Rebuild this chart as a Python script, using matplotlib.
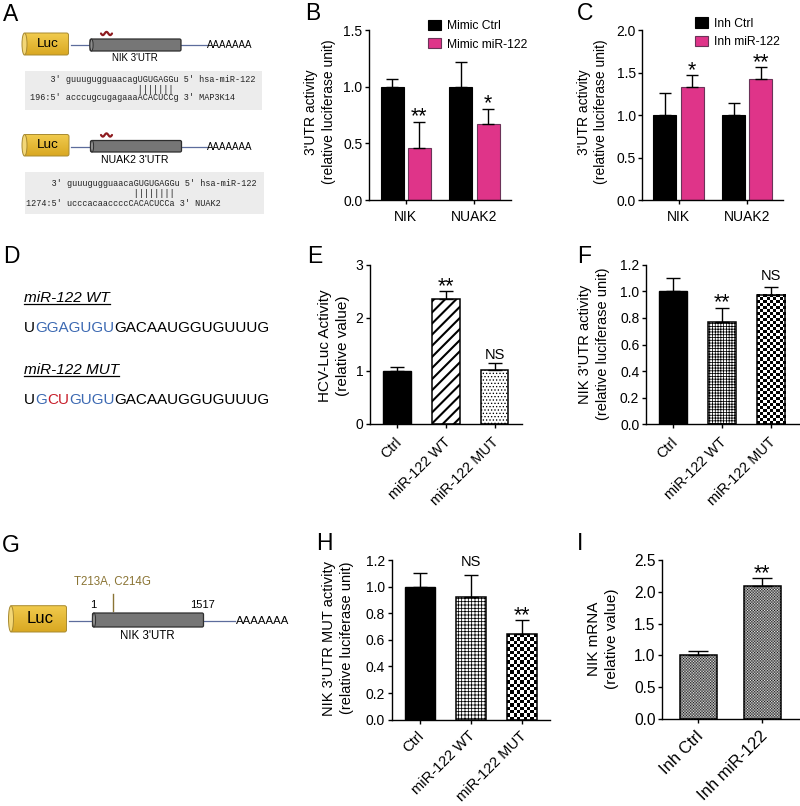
import numpy as np
import matplotlib
matplotlib.use("Agg")
import matplotlib.pyplot as plt
from matplotlib.patches import Rectangle, Ellipse, FancyBboxPatch
from matplotlib.transforms import ScaledTranslation

plt.rcParams['font.family'] = ['Liberation Sans', 'DejaVu Sans']
plt.rcParams['hatch.linewidth'] = 0.55

W, H = 800, 806
PINK = '#DF3489'
PINK_EDGE = '#6B3358'
LINE_BLUE = '#5C6C9C'
OLIVE = '#8A7434'

groups = ['NIK', 'NUAK2']
three_labels = ['Ctrl', 'miR-122 WT', 'miR-122 MUT']
inh_labels = ['Inh Ctrl', 'Inh miR-122']

b_ctrl = [1.0, 1.0]
b_ctrl_top = [1.067, 1.217]
b_mir = [0.457, 0.672]
b_mir_top = [0.693, 0.805]
b_marks = ['**', '*']

c_ctrl = [1.0, 1.0]
c_ctrl_top = [1.257, 1.14]
c_mir = [1.328, 1.43]
c_mir_top = [1.473, 1.564]
c_marks = ['*', '**']

e_vals = [1.0, 2.346, 1.02]
e_tops = [1.07, 2.497, 1.138]
e_marks = ['', '**', 'NS']

f_vals = [1.0, 0.77, 0.97]
f_tops = [1.098, 0.875, 1.035]
f_marks = ['', '**', 'NS']

h_vals = [1.0, 0.922, 0.642]
h_tops = [1.103, 1.088, 0.749]
h_marks = ['', 'NS', '**']

i_vals = [1.0, 2.09]
i_tops = [1.064, 2.21]
i_marks = ['', '**']

fig = plt.figure(figsize=(W / 100, H / 100), dpi=100)

# overlay in pixel coordinates for the schematics
bg = fig.add_axes([0, 0, 1, 1], zorder=-1)
bg.set_xlim(0, W)
bg.set_ylim(H, 0)
bg.axis('off')


def make_axes(left, right, top, bottom, ymax, yticks, first, step, ticks, labels, rot=0, ticksize=10, rotsize=10.4,
              rotpad=5):
    ax = fig.add_axes([left / W, 1 - bottom / H, (right - left) / W, (bottom - top) / H])
    ax.patch.set_alpha(0)
    ax.set_ylim(0, ymax)
    ax.set_xlim((left - first) / step, (right - first) / step)
    ax.set_yticks(yticks)
    ax.set_xticks(ticks)
    ax.tick_params(length=3.0, width=1.0, labelsize=ticksize)
    ax.tick_params(axis='y', pad=1.8)
    if rot:
        ax.set_xticklabels(labels, rotation=rot, ha='right', rotation_mode='anchor', fontsize=rotsize)
        ax.tick_params(axis='x', pad=rotpad)
        for lab in ax.get_xticklabels():
            lab.set_transform(lab.get_transform() + ScaledTranslation(-2 / 72, 0, fig.dpi_scale_trans))
    else:
        ax.set_xticklabels(labels)
        ax.tick_params(axis='x', pad=4)
    ax.spines['top'].set_visible(False)
    ax.spines['right'].set_visible(False)
    ax.spines['left'].set_linewidth(1.0)
    ax.spines['bottom'].set_linewidth(1.0)
    return ax


def ylabel(x, y, text, size=10):
    fig.text(x / W, 1 - y / H, text, rotation=90, ha='center', va='center',
             fontsize=size, linespacing=1.3, multialignment='center')


def errs(ax, x, vals, tops, cap):
    vals = np.array(vals)
    upper = np.array(tops) - vals
    ax.errorbar(x, vals, yerr=[np.zeros(len(vals)), upper], fmt='none', ecolor='black',
                elinewidth=1.0, capsize=cap, capthick=1.0, zorder=1)


def marks(ax, x, tops, labels, star_off=-0.5, ns_off=3.5):
    for xi, t, m in zip(x, tops, labels):
        if m == 'NS':
            ax.annotate(m, (xi, t), xytext=(0, ns_off), textcoords='offset points',
                        ha='center', va='baseline', fontsize=10.5)
        elif m:
            ax.annotate(m, (xi, t), xytext=(0, star_off), textcoords='offset points',
                        ha='center', va='baseline', fontsize=15.5)


def pattern_fill(ax, bar, cell_px, step_px, ymax_px_per_unit, interp='nearest'):
    # checker pattern clipped to the extent of one bar
    x0, w = bar.get_x(), bar.get_width()
    h = bar.get_height()
    nx = max(int(round(w * step_px / cell_px)), 1)
    ny = max(int(round(h * ymax_px_per_unit / cell_px)), 1)
    yy, xx = np.indices((ny, nx))
    ax.imshow((xx + yy) % 2, extent=[x0, x0 + w, 0, h], aspect='auto', cmap='gray',
              interpolation=interp, zorder=0.5)


# ---- panels B and C
def grouped(left, right, ymax, yticks, first, ctrl, ctrl_top, mir, mir_top, mk, names, leg_x, leg_y):
    step = 68.7
    ax = make_axes(left, right, 30.3, 200, ymax, yticks, first, step, [0, 1], groups)
    x = np.arange(2)
    off = 13.7 / step
    bw = 23 / step
    b1 = ax.bar(x - off, ctrl, bw, color='black', edgecolor='black', linewidth=0.8)
    b2 = ax.bar(x + off, mir, bw, color=PINK, edgecolor=PINK_EDGE, linewidth=0.8)
    errs(ax, x - off, ctrl, ctrl_top, 4.3)
    errs(ax, x + off, mir, mir_top, 4.3)
    marks(ax, x + off, mir_top, mk)
    ax.legend([b1, b2], names, loc='upper left', frameon=False, fontsize=8.7,
              bbox_to_anchor=(leg_x / W, 1 - leg_y / H), bbox_transform=fig.transFigure,
              borderpad=0, borderaxespad=0, handlelength=1.07, handleheight=0.9,
              handletextpad=0.5, labelspacing=0.52)
    ax.set_xlim((left - first) / step, (right - first) / step)
    return ax


grouped(369, 511, 1.5, [0, 0.5, 1.0, 1.5], 405.7, b_ctrl, b_ctrl_top, b_mir, b_mir_top, b_marks,
        ['Mimic Ctrl', 'Mimic miR-122'], 428, 20)
grouped(642.3, 783, 2.0, [0, 0.5, 1.0, 1.5, 2.0], 678.5, c_ctrl, c_ctrl_top, c_mir, c_mir_top, c_marks,
        ['Inh Ctrl', 'Inh miR-122'], 695, 17.5)
ylabel(320, 112, "3'UTR activity\n(relative luciferase unit)")
ylabel(592.5, 112, "3'UTR activity\n(relative luciferase unit)")

# ---- panel E
step = 48.8
ax = make_axes(370, 521.7, 264.7, 423.7, 3, [0, 1, 2, 3], 397, step, [0, 1, 2], three_labels, rot=45)
x = np.arange(3)
bw = 27.5 / step
ax.bar(x[0], e_vals[0], bw, color='black', edgecolor='black', linewidth=1)
plt.rcParams['hatch.linewidth'] = 1.5
ax.bar(x[1], e_vals[1], bw, color='white', edgecolor='black', linewidth=1.1, hatch='///')
plt.rcParams['hatch.linewidth'] = 0.55
ax.bar(x[2], e_vals[2], bw, color='white', edgecolor='black', linewidth=1.1, hatch='.....')
errs(ax, x, e_vals, e_tops, 5)
marks(ax, x, e_tops, e_marks)
ylabel(334, 346, "HCV-Luc Activity\n(relative value)", 11)

# ---- panel F
step = 49
ax = make_axes(646, 799, 264.7, 424.3, 1.2, [0, 0.2, 0.4, 0.6, 0.8, 1.0, 1.2], 672.8, step, [0, 1, 2],
               three_labels, rot=45)
bw = 28.3 / step
ax.bar(x[0], f_vals[0], bw, color='black', edgecolor='black', linewidth=1)
ax.bar(x[1], f_vals[1], bw, color='white', edgecolor='black', linewidth=1.1, hatch='++++++')
bar = ax.bar(x[2], f_vals[2], bw, facecolor='none', edgecolor='black', linewidth=1.1)[0]
pattern_fill(ax, bar, 3.0, step, 159.6 / 1.2)
ax.set_xlim((646 - 672.8) / step, (799 - 672.8) / step)
ax.set_ylim(0, 1.2)
errs(ax, x, f_vals, f_tops, 5)
marks(ax, x, f_tops, f_marks, ns_off=5)
ylabel(594, 344, "NIK 3'UTR activity\n(relative luciferase unit)", 10.5)

# ---- panel H
step = 51
ax = make_axes(391.7, 550, 560, 719.7, 1.2, [0, 0.2, 0.4, 0.6, 0.8, 1.0, 1.2], 419.8, step, [0, 1, 2],
               three_labels, rot=45, rotsize=10.6, rotpad=3.5)
bw = 29.5 / step
ax.bar(x[0], h_vals[0], bw, color='black', edgecolor='black', linewidth=1)
ax.bar(x[1], h_vals[1], bw, color='white', edgecolor='black', linewidth=1.1, hatch='+++++')
bar = ax.bar(x[2], h_vals[2], bw, facecolor='none', edgecolor='black', linewidth=1.1)[0]
pattern_fill(ax, bar, 3.3, step, 159.7 / 1.2)
ax.set_xlim((391.7 - 419.8) / step, (550 - 419.8) / step)
ax.set_ylim(0, 1.2)
errs(ax, x, h_vals, h_tops, 5)
marks(ax, x, h_tops, h_marks, ns_off=6.5)
ylabel(338, 638, "NIK 3'UTR MUT activity\n(relative luciferase unit)", 10.5)

# ---- panel I
step = 64
ax = make_axes(662.3, 799, 560, 719, 2.5, [0, 0.5, 1.0, 1.5, 2.0, 2.5], 698.3, step, [0, 1], inh_labels,
               rot=45, ticksize=11.2, rotsize=12, rotpad=4)
x2 = np.arange(2)
bw = 36.5 / step
for xi, v in zip(x2, i_vals):
    bar = ax.bar(xi, v, bw, facecolor='none', edgecolor='black', linewidth=1.1)[0]
    pattern_fill(ax, bar, 1.4, step, 159 / 2.5, interp='bilinear')
ax.set_xlim((662.3 - 698.3) / step, (799 - 698.3) / step)
ax.set_ylim(0, 2.5)
errs(ax, x2, i_vals, i_tops, 7)
marks(ax, x2, i_tops, i_marks)
ylabel(603, 639, "NIK mRNA\n(relative value)", 11)


# ---- schematics
def cylinder(x0, x1, y0, y1, kind):
    h = y1 - y0
    if kind == 'luc':
        body = FancyBboxPatch((x0 + 2, y0), x1 - x0 - 4, h, boxstyle='round,pad=0,rounding_size=2',
                              facecolor='none', edgecolor='#A88A30', linewidth=0.7, zorder=3)
        bg.add_patch(body)
        grad = np.linspace(0, 1, 40).reshape(-1, 1)
        cmap = matplotlib.colors.LinearSegmentedColormap.from_list('gold', ['#F1CB4E', '#D9A822'])
        im = bg.imshow(grad, extent=[x0 + 2, x1 - 2, y1, y0], aspect='auto', cmap=cmap, zorder=2)
        im.set_clip_path(body)
        bg.add_patch(Ellipse((x0 + 2.5, (y0 + y1) / 2), 5, h, facecolor='#F3D777', edgecolor='#A88A30',
                             linewidth=0.7, zorder=4))
    else:
        bg.add_patch(FancyBboxPatch((x0, y0), x1 - x0, h, boxstyle='round,pad=0,rounding_size=1.5',
                                    facecolor='#767676', edgecolor='#2E2E2E', linewidth=0.9, zorder=3))
        bg.add_patch(Ellipse((x0 + 1.5, (y0 + y1) / 2), 3.2, h, facecolor='#8C8C8C', edgecolor='#2E2E2E',
                             linewidth=0.7, zorder=4))


def construct(luc, utr, line_y, line_end, poly_x, luc_size, poly_size):
    cylinder(luc[0], luc[1], luc[2], luc[3], 'luc')
    cylinder(utr[0], utr[1], utr[2], utr[3], 'utr')
    bg.plot([luc[1], utr[0]], [line_y, line_y], color=LINE_BLUE, lw=0.9, zorder=1)
    bg.plot([utr[1], line_end], [line_y, line_y], color=LINE_BLUE, lw=0.9, zorder=1)
    bg.text((luc[0] + luc[1]) / 2 + 1.5, (luc[2] + luc[3]) / 2, 'Luc', ha='center', va='center',
            fontsize=luc_size, zorder=5)
    bg.text(poly_x, line_y + 0.5, 'AAAAAAA', ha='left', va='center', fontsize=poly_size)


def squiggle(x0, y):
    t = np.linspace(0, 1, 40)
    bg.plot(x0 + 11 * t, y + 1.6 * np.sin(t * 3 * np.pi), color='#8E1B1F', lw=1.6, solid_capstyle='round')


def seq_box(x0, x1, y0, y1, text_x, lines, ys):
    bg.add_patch(Rectangle((x0, y0), x1 - x0, y1 - y0, facecolor='#ECECEC', edgecolor='none', zorder=0))
    for line, y in zip(lines, ys):
        bg.text(text_x, y, line, family='Liberation Mono', fontsize=6.15, ha='left', va='center', color='#222222')


construct((22, 70.5, 33, 55), (90, 181, 39, 51), 45, 206.5, 207, 9.7, 7)
squiggle(101, 33.5)
bg.text(134.5, 58, "NIK 3'UTR", ha='center', va='center', fontsize=7)
seq_box(25, 262, 70.5, 109.5, 30,
        ["    3' guuugugguaacagUGUGAGGu 5' hsa-miR-122",
         " " * 21 + "|||||||",
         "196:5' acccugcugagaaaACACUCCg 3' MAP3K14"], [79, 89, 98])

construct((22, 71, 134.5, 156), (90.5, 181.5, 140.5, 152), 146.5, 206.5, 207, 9.7, 7)
squiggle(101, 135)
bg.text(135, 160, "NUAK2 3'UTR", ha='center', va='center', fontsize=7.6)
seq_box(25, 264, 172, 213.5, 25.7,
        ["     3' guuugugguaacaGUGUGAGGu 5' hsa-miR-122",
         " " * 21 + "||||||||",
         "1274:5' ucccacaaccccCACACUCCa 3' NUAK2"], [183, 193, 203])

construct((8.5, 68.5, 605.7, 632), (92.5, 203.5, 613, 627), 620.5, 235, 236, 12, 8.2)
bg.text(147, 636, "NIK 3'UTR", ha='center', va='center', fontsize=8.3)
bg.text(93, 605.5, '1', ha='center', va='center', fontsize=8)
bg.text(202, 605.5, '1517', ha='center', va='center', fontsize=8)
bg.plot([113, 113], [594, 611], color=OLIVE, lw=1.0)
bg.text(112, 581, 'T213A, C214G', ha='center', va='center', fontsize=8.3, color=OLIVE)


def colored_seq(x, y, parts):
    prev = bg.text(x, y, parts[0][0], color=parts[0][1], fontsize=11, ha='left', va='baseline')
    for txt, col in parts[1:]:
        prev = bg.annotate(txt, xy=(1, 0), xycoords=prev, color=col, fontsize=11, ha='left', va='bottom')


BLUE = '#3C69B2'
RED = '#C8202C'
bg.text(24, 301.5, 'miR-122 WT', style='italic', fontsize=11, ha='left', va='baseline')
bg.plot([24, 110], [303.5, 303.5], color='black', lw=0.9)
colored_seq(24, 331.5, [('U', 'black'), ('GGAGUGU', BLUE), ('GACAAUGGUGUUUG', 'black')])
bg.text(24, 374, 'miR-122 MUT', style='italic', fontsize=11, ha='left', va='baseline')
bg.plot([24, 119], [376, 376], color='black', lw=0.9)
colored_seq(24, 404, [('U', 'black'), ('G', BLUE), ('CU', RED), ('GUGU', BLUE), ('GACAAUGGUGUUUG', 'black')])

letters = ['A', 'B', 'C', 'D', 'E', 'F', 'G', 'H', 'I']
letter_x = [3, 305, 577, 3, 306.7, 577, 2, 316, 577]
letter_y = [20.7, 20, 20, 263, 263, 263, 551.7, 550, 550]
for t, lx, ly in zip(letters, letter_x, letter_y):
    bg.text(lx, ly, t, fontsize=16.5, ha='left', va='baseline')

bg.set_xlim(0, W)
bg.set_ylim(H, 0)
fig.savefig('out.png', dpi=100)
